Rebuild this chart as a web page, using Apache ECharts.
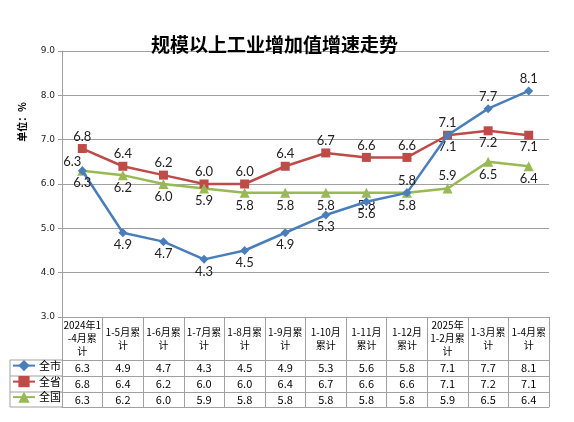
<!DOCTYPE html>
<html lang="zh">
<head>
    <meta charset="UTF-8">
    <title>规模以上工业增加值增速走势</title>
    <script src="https://cdn.jsdelivr.net/npm/echarts@6/dist/echarts.min.js"></script>
    <style>
        html, body { margin: 0; padding: 0; background: #fff; }
        #main { width: 574px; height: 422px; }
    </style>
</head>
<body>
<div id="main"></div>
<script type="text/javascript">
    // 类目（表头，按原图换行）
    var categories = ['2024年1\n-4月累\n计', '1-5月累\n计', '1-6月累\n计', '1-7月累\n计', '1-8月累\n计', '1-9月累\n计',
        '1-10月\n累计', '1-11月\n累计', '1-12月\n累计', '2025年\n1-2月累\n计', '1-3月累\n计', '1-4月累\n计'];
    var seriesNames = ['全市', '全省', '全国'];
    // 全市
    var cityData = [6.3, 4.9, 4.7, 4.3, 4.5, 4.9, 5.3, 5.6, 5.8, 7.1, 7.7, 8.1];
    // 全省
    var provinceData = [6.8, 6.4, 6.2, 6.0, 6.0, 6.4, 6.7, 6.6, 6.6, 7.1, 7.2, 7.1];
    // 全国
    var nationData = [6.3, 6.2, 6.0, 5.9, 5.8, 5.8, 5.8, 5.8, 5.8, 5.9, 6.5, 6.4];
    // y轴刻度
    var yMin = 3, yMax = 9, yStep = 1;

    // 数据标签位置
    var cityPos = ['bottom', 'bottom', 'bottom', 'bottom', 'bottom', 'bottom', 'bottom', 'bottom', 'top', 'top', 'top', 'top'];
    var provincePos = ['top', 'top', 'top', 'top', 'top', 'top', 'top', 'top', 'top', 'bottom', 'bottom', 'bottom'];
    var nationPos = ['top', 'bottom', 'bottom', 'bottom', 'bottom', 'bottom', 'bottom', 'bottom', 'bottom', 'top', 'bottom', 'bottom'];

    // 版面
    var gridLeft = 62, gridRight = 25, gridTop = 51, gridBottom = 105;
    var headH = 43, rowH = [16, 16, 15];
    var legendLeft = 10;
    var lineColor = '#a0a0a0';
    var colors = ['#4A7EBB', '#BE4B48', '#98B954'];

    var axisBottomY = 422 - gridBottom;
    var rowOffsets = [headH, headH + rowH[0], headH + rowH[0] + rowH[1], headH + rowH[0] + rowH[1] + rowH[2]];
    var tableRows = [cityData, provinceData, nationData];

    function buildData(values, pos, offsets) {
        return values.map(function (v, i) {
            var item = {value: v, label: {position: pos[i]}};
            if (offsets && offsets[i]) {
                item.label.offset = offsets[i];
            }
            return item;
        });
    }

    var xAxes = [
        {
            type: 'category',
            data: categories,
            gridIndex: 0,
            position: 'bottom',
            boundaryGap: true,
            axisLine: {lineStyle: {color: lineColor, width: 1}},
            axisTick: {show: true, interval: 0, length: headH, lineStyle: {color: lineColor}},
            axisLabel: {
                interval: 0, margin: headH / 2, verticalAlign: 'middle', align: 'center',
                fontSize: 10, lineHeight: 13, color: '#000', fontFamily: '"Noto Sans CJK SC", sans-serif'
            },
            splitLine: {show: false}
        }
    ];
    // 表格各行
    tableRows.forEach(function (row, r) {
        xAxes.push({
            type: 'category',
            data: categories,
            gridIndex: 0,
            position: 'bottom',
            offset: rowOffsets[r],
            boundaryGap: true,
            axisLine: {lineStyle: {color: lineColor, width: 1}},
            axisTick: {show: true, interval: 0, length: rowH[r], lineStyle: {color: lineColor}},
            axisLabel: {
                interval: 0, margin: rowH[r] / 2, verticalAlign: 'middle', align: 'center',
                fontSize: 11, color: '#000', fontFamily: '"Noto Sans CJK SC", sans-serif',
                formatter: function (v, i) {
                    return row[i].toFixed(1);
                }
            },
            splitLine: {show: false}
        });
    });
    // 表格底线
    xAxes.push({
        type: 'category',
        data: categories,
        gridIndex: 0,
        position: 'bottom',
        offset: rowOffsets[3],
        axisLine: {lineStyle: {color: lineColor, width: 1}},
        axisTick: {show: false},
        axisLabel: {show: false}
    });

    // 左侧图例列的边框
    var leftLines = [];
    rowOffsets.forEach(function (off) {
        leftLines.push({
            type: 'line',
            shape: {x1: legendLeft, y1: axisBottomY + off, x2: gridLeft, y2: axisBottomY + off},
            style: {stroke: lineColor, lineWidth: 1}
        });
    });
    leftLines.push({
        type: 'line',
        shape: {x1: legendLeft, y1: axisBottomY + rowOffsets[0], x2: legendLeft, y2: axisBottomY + rowOffsets[3]},
        style: {stroke: lineColor, lineWidth: 1}
    });
    leftLines.push({
        type: 'text',
        x: 22,
        y: 122,
        rotation: Math.PI / 2,
        style: {
            text: '单位：%', fontSize: 10, fontWeight: 'bold', fill: '#000',
            align: 'center', verticalAlign: 'middle', fontFamily: '"Noto Sans CJK SC", sans-serif'
        }
    });

    // 每行一个图例
    var legends = seriesNames.map(function (name, r) {
        var rowTop = axisBottomY + rowOffsets[r];
        return {
            data: [name],
            left: legendLeft + 2,
            top: rowTop + rowH[r] / 2 - 8,
            padding: 0,
            itemWidth: 22,
            itemHeight: 14,
            itemGap: 0,
            selectedMode: false,
            textStyle: {fontSize: 11, color: '#000', padding: [0, 0, 0, -1], fontFamily: '"Noto Sans CJK SC", sans-serif'}
        };
    });

    var labelStyle = {
        show: true, distance: 1, fontSize: 13, color: '#222', fontFamily: 'Lato, "Noto Sans CJK SC", sans-serif',
        formatter: function (p) {
            return p.value.toFixed(1);
        }
    };

    var myChart = echarts.init(document.getElementById('main'));
    myChart.setOption({
        animation: false,
        backgroundColor: '#fff',
        title: {
            text: '规模以上工业增加值增速走势',
            left: 146,
            top: 30,
            textStyle: {fontSize: 19, fontWeight: 'bold', color: '#000', fontFamily: '"Noto Sans CJK SC", sans-serif'}
        },
        legend: legends,
        grid: {
            left: gridLeft, right: gridRight, top: gridTop, bottom: gridBottom,
            containLabel: false, outerBoundsMode: 'none'
        },
        xAxis: xAxes,
        yAxis: {
            type: 'value',
            min: yMin,
            max: yMax,
            interval: yStep,
            axisLine: {show: true, lineStyle: {color: lineColor}},
            axisTick: {show: true, length: 4, lineStyle: {color: lineColor}},
            axisLabel: {
                margin: 7, fontSize: 9, color: '#222', fontFamily: '"DejaVu Sans", sans-serif',
                formatter: function (v) {
                    return v.toFixed(1);
                }
            },
            splitLine: {lineStyle: {color: lineColor, width: 1}}
        },
        graphic: leftLines,
        series: [
            {
                name: seriesNames[0],
                type: 'line',
                xAxisIndex: 0,
                data: buildData(cityData, cityPos),
                symbol: 'diamond',
                symbolSize: 9,
                itemStyle: {color: colors[0]},
                lineStyle: {color: colors[0], width: 2.5},
                label: labelStyle,
                z: 3
            },
            {
                name: seriesNames[1],
                type: 'line',
                xAxisIndex: 0,
                data: buildData(provinceData, provincePos),
                symbol: 'rect',
                symbolSize: 9,
                itemStyle: {color: colors[1]},
                lineStyle: {color: colors[1], width: 2.5},
                label: labelStyle,
                z: 2
            },
            {
                name: seriesNames[2],
                type: 'line',
                xAxisIndex: 0,
                data: buildData(nationData, nationPos, {0: [-10, 4]}),
                symbol: 'triangle',
                symbolSize: 10,
                itemStyle: {color: colors[2]},
                lineStyle: {color: colors[2], width: 2.5},
                label: labelStyle,
                z: 2
            }
        ]
    });
</script>
</body>
</html>
